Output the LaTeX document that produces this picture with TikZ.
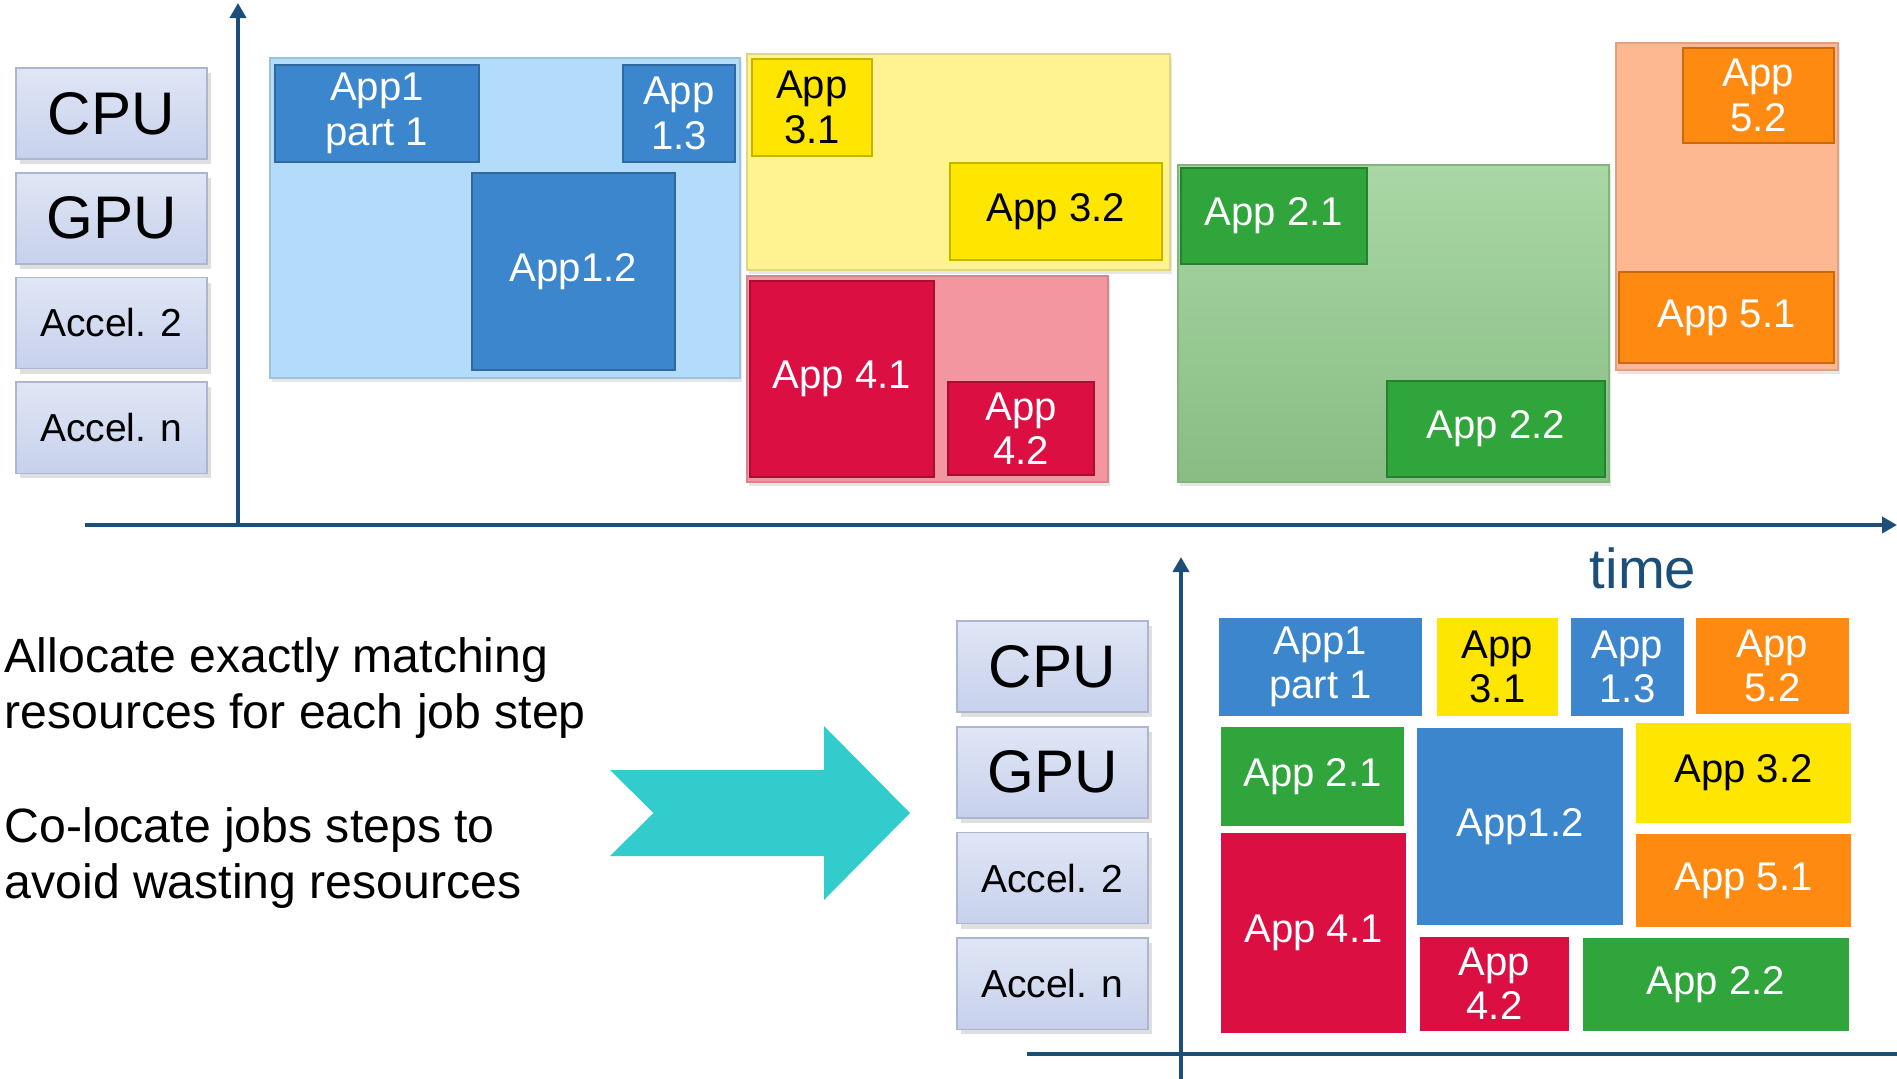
\documentclass[tikz,border=0pt]{standalone}
\usepackage{fontspec}
\setmainfont{Liberation Sans}
\usepackage{xcolor}
\usepackage{tikz}
\usetikzlibrary{positioning, arrows.meta, shadows}
\definecolor{axisblue}{RGB}{27,79,122}
\definecolor{restop}{RGB}{224,230,245}
\definecolor{resbot}{RGB}{199,209,236}
\definecolor{resline}{RGB}{172,182,206}
\definecolor{appblue}{RGB}{59,134,204}
\definecolor{appbluebg}{RGB}{178,220,250}
\definecolor{appyellow}{RGB}{255,230,0}
\definecolor{appyellowbg}{RGB}{255,243,145}
\definecolor{appred}{RGB}{220,15,67}
\definecolor{appredbg}{RGB}{243,150,160}
\definecolor{appgreen}{RGB}{48,165,59}
\definecolor{appgreenbg}{RGB}{148,205,143}
\definecolor{apporange}{RGB}{255,138,18}
\definecolor{apporangebg}{RGB}{253,184,145}
\definecolor{arrowteal}{RGB}{51,204,204}
\tikzset{
  resbox/.style={
    rectangle, draw=resline, line width=0.5pt,
    top color=restop, bottom color=resbot,
    minimum width=19.1mm, minimum height=9.1mm,
    inner sep=0pt, font=\fontsize{11.1}{13}\selectfont,
    drop shadow={shadow xshift=0.4mm, shadow yshift=-0.5mm, opacity=0.25}
  },
  resbox-big/.style={resbox, font=\fontsize{17.1}{19}\selectfont},
  appbox/.style={
    rectangle, anchor=north west, line width=0.5pt,
    align=center, inner sep=0pt, text=white,
    font=\fontsize{11.4}{12.6}\selectfont
  },
  app/.style={appbox, fill=#1, draw=#1!78!black},
  app-flat/.style={appbox, fill=#1, draw=none},
  jobbg/.style={
    rectangle, anchor=north west, inner sep=0pt, line width=0.6pt,
    fill=#1, draw=#1!88!black,
    drop shadow={shadow xshift=0.2mm, shadow yshift=-0.4mm, opacity=0.2}
  },
  note/.style={align=left, inner sep=0pt, anchor=west, font=\fontsize{13.7}{15.9}\selectfont},
  axisline/.style={draw=axisblue, line width=1.1pt},
  axisarrow/.style={axisline, -{Triangle[length=1.5mm, width=1.6mm]}}
}

\begin{document}
\begin{tikzpicture}[x=0.01cm, y=-0.01cm]
  \useasboundingbox (0,0) rectangle (1897,1079);

  % one job after the other
  \node[resbox-big, anchor=north west] (cpuA) at (15,67) {CPU};
  \node[resbox-big, below=1.2mm of cpuA] (gpuA) {GPU};
  \node[resbox, below=1.2mm of gpuA] (acc2A) {Accel. 2};
  \node[resbox, below=1.2mm of acc2A] (accnA) {Accel. n};

  \coordinate (oA) at (238,525);
  \coordinate (yA) at (238,3);
  \coordinate (xA0) at (85,525);
  \coordinate (xA) at (1897,525);
  \draw[axisarrow] (oA) -- (yA);
  \draw[axisarrow] (xA0) -- (xA);

  \node[jobbg=appbluebg, minimum width=47mm, minimum height=32mm] (job1) at (269,57) {};
  \node[app=appblue, minimum width=20.4mm, minimum height=9.7mm] (t11) at (274,64) {App1\\part 1};
  \node[app=appblue, minimum width=11.2mm, minimum height=9.7mm] (t13) at (622,64) {App\\1.3};
  \node[app=appblue, minimum width=20.3mm, minimum height=19.7mm] (t12) at (471,172) {App1.2};

  \node[jobbg=appyellowbg, minimum width=42.3mm, minimum height=21.6mm] (job3) at (746,53) {};
  \node[app=appyellow, text=black, minimum width=12mm, minimum height=9.7mm] (t31) at (751,58) {App\\3.1};
  \node[app=appyellow, text=black, minimum width=21.2mm, minimum height=9.7mm] (t32) at (949,162) {App 3.2};

  \node[jobbg=appredbg, minimum width=36.1mm, minimum height=20.6mm] (job4) at (746,275) {};
  \node[app=appred, minimum width=18.4mm, minimum height=19.6mm] (t41) at (749,280) {App 4.1};
  \node[app=appred, minimum width=14.6mm, minimum height=9.3mm] (t42) at (947,381) {App\\4.2};

  \node[jobbg=appgreenbg, top color=appgreenbg!80!white, bottom color=appgreenbg!92!black,
        minimum width=43.1mm, minimum height=31.7mm] (job2) at (1177,164) {};
  \node[app=appgreen, minimum width=18.6mm, minimum height=9.6mm] (t21) at (1180,167) {App 2.1};
  \node[app=appgreen, minimum width=21.8mm, minimum height=9.6mm] (t22) at (1386,380) {App 2.2};

  \node[jobbg=apporangebg, minimum width=22.2mm, minimum height=32.7mm] (job5) at (1615,42) {};
  \node[app=apporange, minimum width=15.1mm, minimum height=9.5mm] (t52) at (1682,47) {App\\5.2};
  \node[app=apporange, minimum width=21.5mm, minimum height=9.1mm] (t51) at (1618,271) {App 5.1};

  % co-located job steps
  \node[note] (allocTxt) at (4,688) {Allocate exactly matching\\resources for each job step};
  \node[note] (colocTxt) at (4,858) {Co-locate jobs steps to\\avoid wasting resources};
  \fill[arrowteal] (610,770) -- (824,770) -- (824,726) -- (910,813) -- (824,900)
    -- (824,856) -- (610,856) -- (653.5,813) -- cycle;

  \node[resbox-big, anchor=north west] (cpuB) at (956,620) {CPU};
  \node[resbox-big, below=1.3mm of cpuB] (gpuB) {GPU};
  \node[resbox, below=1.3mm of gpuB] (acc2B) {Accel. 2};
  \node[resbox, below=1.3mm of acc2B] (accnB) {Accel. n};

  \coordinate (yB0) at (1181,1079);
  \coordinate (yB) at (1181,557);
  \coordinate (xB0) at (1027,1054);
  \coordinate (xB) at (1897,1054);
  \draw[axisarrow] (yB0) -- (yB);
  \draw[axisline] (xB0) -- (xB);
  \node[text=axisblue, font=\fontsize{16}{18}\selectfont] (timeLbl) at (1643,568) {time};

  \node[app-flat=appblue, minimum width=20.3mm, minimum height=9.8mm] (b11) at (1218,617) {App1\\part 1};
  \node[app-flat=appyellow, text=black, minimum width=12.1mm, minimum height=9.8mm] (b31) at (1436,617) {App\\3.1};
  \node[app-flat=appblue, minimum width=11.3mm, minimum height=9.8mm] (b13) at (1570,617) {App\\1.3};
  \node[app-flat=apporange, minimum width=15.3mm, minimum height=9.6mm] (b52) at (1695,617) {App\\5.2};
  \node[app-flat=appgreen, minimum width=18.3mm, minimum height=9.9mm] (b21) at (1220,726) {App 2.1};
  \node[app-flat=appblue, minimum width=20.6mm, minimum height=19.7mm] (b12) at (1416,727) {App1.2};
  \node[app-flat=appyellow, text=black, minimum width=21.5mm, minimum height=10mm] (b32) at (1635,722) {App 3.2};
  \node[app-flat=appred, minimum width=18.5mm, minimum height=20mm] (b41) at (1220,832) {App 4.1};
  \node[app-flat=apporange, minimum width=21.5mm, minimum height=9.3mm] (b51) at (1635,833) {App 5.1};
  \node[app-flat=appred, minimum width=14.9mm, minimum height=9.4mm] (b42) at (1419,936) {App\\4.2};
  \node[app-flat=appgreen, minimum width=26.6mm, minimum height=9.3mm] (b22) at (1582,937) {App 2.2};
\end{tikzpicture}
\end{document}
